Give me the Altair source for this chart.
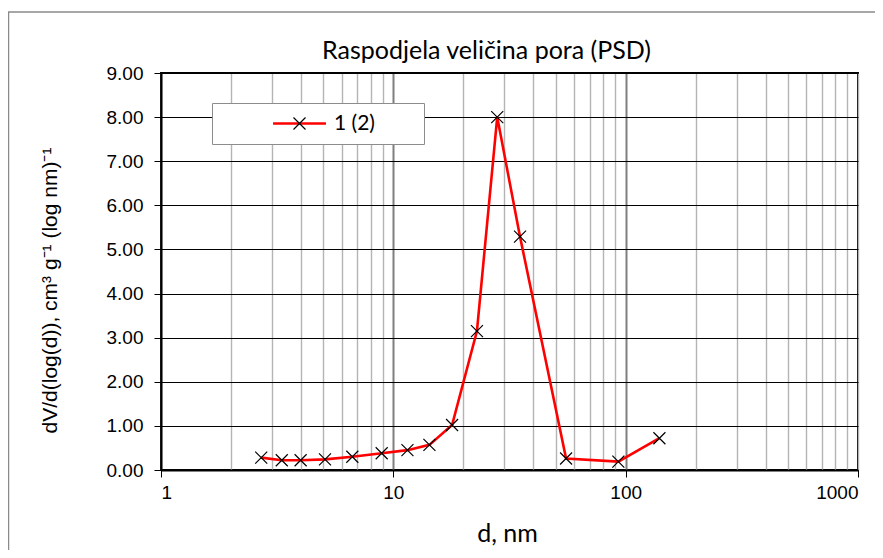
import altair as alt
import pandas as pd

# ---- data ----
diameter_nm = [2.70, 3.31, 3.99, 5.08, 6.66, 8.91, 11.5, 14.3, 17.9, 22.9, 28.0, 35.1, 55.4, 93.0, 139.7]
dv_dlogd = [0.28, 0.22, 0.22, 0.24, 0.30, 0.38, 0.45, 0.57, 1.02, 3.15, 8.00, 5.29, 0.26, 0.19, 0.72]
series_name = "1 (2)"
x_tick_values = [1, 2, 3, 4, 5, 6, 7, 8, 9,
                 10, 20, 30, 40, 50, 60, 70, 80, 90,
                 100, 200, 300, 400, 500, 600, 700, 800, 900, 1000]
y_tick_values = [0, 1, 2, 3, 4, 5, 6, 7, 8, 9]

df = pd.DataFrame({
    "d": diameter_nm,
    "v": dv_dlogd,
    "series": [series_name] * len(diameter_nm),
    "series_m": [series_name] * len(diameter_nm),
    "i": list(range(len(diameter_nm))),
})

CROSS = "M-1,-1L1,1M-1,1L1,-1"
LINEPATH = "M-5,0L5,0"

major_test = "datum.value == 1 || datum.value == 10 || datum.value == 100 || datum.value == 1000"
grid_major = "datum.value == 10 || datum.value == 100"

x_enc = alt.X(
    "d:Q",
    scale=alt.Scale(type="log", domain=[1, 1000]),
    title="d, nm",
    axis=alt.Axis(
        values=x_tick_values,
        labelExpr=f"({major_test}) ? format(datum.value, 'd') : ''",
        labelOverlap=False,
        tickSize=7,
        tickOpacity=alt.condition(major_test, alt.value(1), alt.value(0)),
        gridColor=alt.condition(grid_major, alt.value("#7f7f7f"), alt.value("#b4b4b4")),
        gridWidth=alt.condition(grid_major, alt.value(2), alt.value(1.4)),
        labelPadding=6,
        titleFont="Lato",
        titleFontSize=25,
        titleFontWeight="normal",
        titleBaseline="alphabetic",
        titleY=71,
        titleX=346,
    ),
)

y_enc = alt.Y(
    "v:Q",
    scale=alt.Scale(domain=[0, 9]),
    title="dV/d(log(d)), cm³ g⁻¹ (log nm)⁻¹",
    axis=alt.Axis(
        values=y_tick_values,
        format=".2f",
        tickSize=7,
        labelPadding=11,
        gridColor="#000000",
        gridWidth=1,
        titleFont="Liberation Sans",
        titleFontSize=21,
        titleFontWeight="normal",
        titleAngle=270,
        titleAlign="center",
        titleBaseline="middle",
        titleX=-111,
        titleY=217,
    ),
)

base = alt.Chart(df).encode(x=x_enc, y=y_enc)

line = base.mark_line(strokeWidth=2.6).encode(
    stroke=alt.Stroke(
        "series:N",
        scale=alt.Scale(range=["#ff0000"]),
        legend=alt.Legend(
            title="mm",
            titleOrient="right",
            titleOpacity=0,
            titleFont="Lato",
            titleFontSize=20,
            titlePadding=5,
            orient="none",
            legendX=51,
            legendY=30,
            padding=10,
            strokeColor="#8c8c8c",
            fillColor="white",
            symbolType=LINEPATH,
            symbolSize=112,
            symbolStrokeWidth=2.6,
            symbolOffset=67,
            labelOffset=24,
            labelFont="Lato",
            labelFontSize=21,
            labelColor="black",
            zindex=1,
        ),
    ),
    order="i:Q",
)

points = base.mark_point(size=144, filled=False, stroke="black", strokeWidth=1.2, opacity=1).encode(
    shape=alt.Shape(
        "series_m:N",
        scale=alt.Scale(range=[CROSS]),
        legend=alt.Legend(
            title=None,
            orient="none",
            legendX=51,
            legendY=30,
            padding=10,
            symbolSize=144,
            symbolStrokeColor="black",
            symbolStrokeWidth=1.2,
            symbolFillColor="transparent",
            symbolOffset=67,
            labelOffset=24,
            labelFont="Lato",
            labelFontSize=21,
            labelOpacity=0,
            zindex=2,
        ),
    ),
)

frame = alt.Chart(pd.DataFrame({"k": [0]})).mark_rect(
    fill="transparent", stroke="#8a8a8a", strokeWidth=1.5
).encode(
    x=alt.value(-152.5), x2=alt.value(760), y=alt.value(-61), y2=alt.value(520)
)

chart = alt.layer(frame, line, points).properties(
    width=697,
    height=397,
    background="white",
    autosize=alt.AutoSizeParams(type="none"),
    padding={"left": 153, "top": 65, "right": 17, "bottom": 80},
    title=alt.TitleParams(
        "Raspodjela veličina pora (PSD)",
        font="Lato",
        fontSize=25,
        fontWeight="normal",
        color="black",
        anchor="middle",
        frame="group",
        dx=-23,
        offset=-53,
    ),
).configure_view(
    stroke="black", strokeWidth=2
).configure_axis(
    domainColor="black",
    domainWidth=2,
    tickColor="black",
    tickWidth=1,
    labelFont="Liberation Sans",
    labelFontSize=19,
    labelColor="black",
    titleColor="black",
)

chart.save("out.html", embed_options={"renderer": "svg", "actions": False})
